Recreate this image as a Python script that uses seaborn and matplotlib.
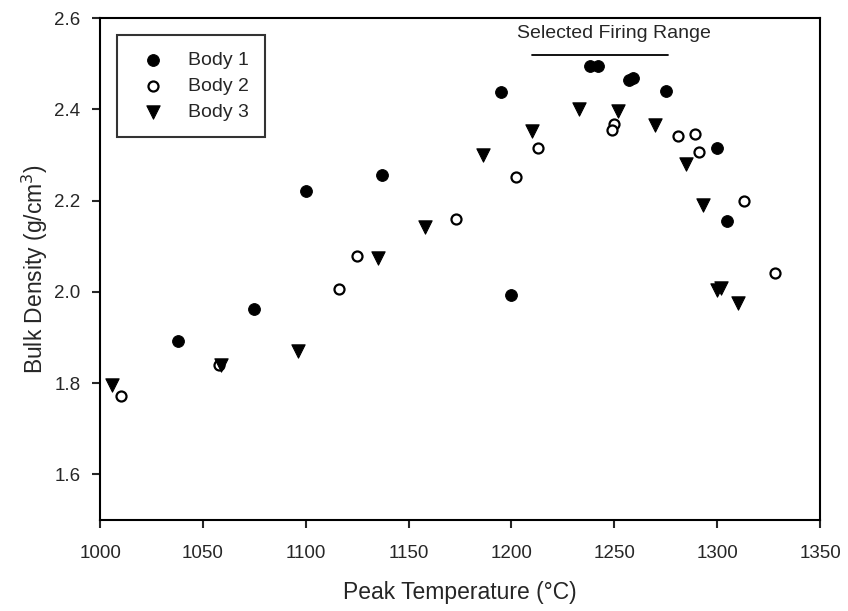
# %%
import matplotlib
matplotlib.use('Agg')
import matplotlib.pyplot as plt
import pandas as pd
import seaborn as sns

# %%
body1_temp = [1038, 1075, 1100, 1137, 1195, 1200, 1238, 1242, 1257, 1259, 1275, 1300, 1305]
body1_dens = [1.893, 1.962, 2.220, 2.255, 2.437, 1.993, 2.494, 2.494, 2.465, 2.468, 2.441, 2.316, 2.155]

body2_temp = [1010, 1058, 1116, 1125, 1173, 1202, 1213, 1250, 1249, 1281, 1289, 1291, 1313, 1328]
body2_dens = [1.771, 1.840, 2.006, 2.078, 2.159, 2.252, 2.316, 2.368, 2.355, 2.342, 2.345, 2.306, 2.200, 2.041]

body3_temp = [1006, 1059, 1096, 1135, 1158, 1186, 1210, 1233, 1252, 1270, 1285, 1293, 1300, 1302, 1310]
body3_dens = [1.795, 1.840, 1.871, 2.073, 2.142, 2.300, 2.352, 2.401, 2.396, 2.366, 2.279, 2.191, 2.005, 2.008, 1.975]

series_names = ['Body 1', 'Body 2', 'Body 3']
firing_range = (1210, 1276)
firing_level = 2.518

# %%
sns.set_style('white')
plt.rcParams['font.family'] = ['Liberation Sans', 'DejaVu Sans']

df = pd.concat([
    pd.DataFrame({'temp': body1_temp, 'dens': body1_dens, 'body': series_names[0]}),
    pd.DataFrame({'temp': body2_temp, 'dens': body2_dens, 'body': series_names[1]}),
    pd.DataFrame({'temp': body3_temp, 'dens': body3_dens, 'body': series_names[2]}),
])

fig = plt.figure(figsize=(8.48, 6.11), dpi=100)
ax = fig.add_axes([0.118, 0.149, 0.849, 0.8215])

styles = {
    'Body 1': dict(marker='o', s=72, color='black', edgecolor='black'),
    'Body 2': dict(marker='o', s=52, facecolor='white', edgecolor='black', linewidth=1.6),
    'Body 3': dict(marker='v', s=92, color='black', edgecolor='black'),
}
for name in series_names:
    sub = df[df['body'] == name]
    sns.scatterplot(data=sub, x='temp', y='dens', ax=ax, label=name, **styles[name])

ax.plot(firing_range, [firing_level, firing_level], color='black', lw=1.3)
ax.text(1250, 2.566, 'Selected Firing Range', ha='center', va='center', fontsize=14)

ax.set_xlim(1000, 1350)
ax.set_ylim(1.5, 2.6)
ax.set_xticks(range(1000, 1351, 50))
ax.set_yticks([1.6, 1.8, 2.0, 2.2, 2.4, 2.6])
ax.set_yticklabels(['1.6', '1.8', '2.0', '2.2', '2.4', '2.6'])
ax.tick_params(direction='out', length=6, width=1.5, labelsize=13.5, bottom=True, left=True)
ax.tick_params(axis='x', pad=12)
ax.tick_params(axis='y', pad=8)
for sp in ax.spines.values():
    sp.set_linewidth(1.5)
    sp.set_color('black')

ax.set_xlabel('Peak Temperature (°C)', fontsize=16.5, labelpad=14)
ax.set_ylabel('Bulk Density (g/cm$^3$)', fontsize=16.5, labelpad=3)

leg = ax.legend(loc='upper left', bbox_to_anchor=(0.0236, 0.966), borderaxespad=0,
                frameon=True, fancybox=False, edgecolor='black', fontsize=14,
                handletextpad=0.8, borderpad=0.85, labelspacing=0.42)
leg.get_frame().set_linewidth(1.5)

fig.savefig('out.png', dpi=100)
